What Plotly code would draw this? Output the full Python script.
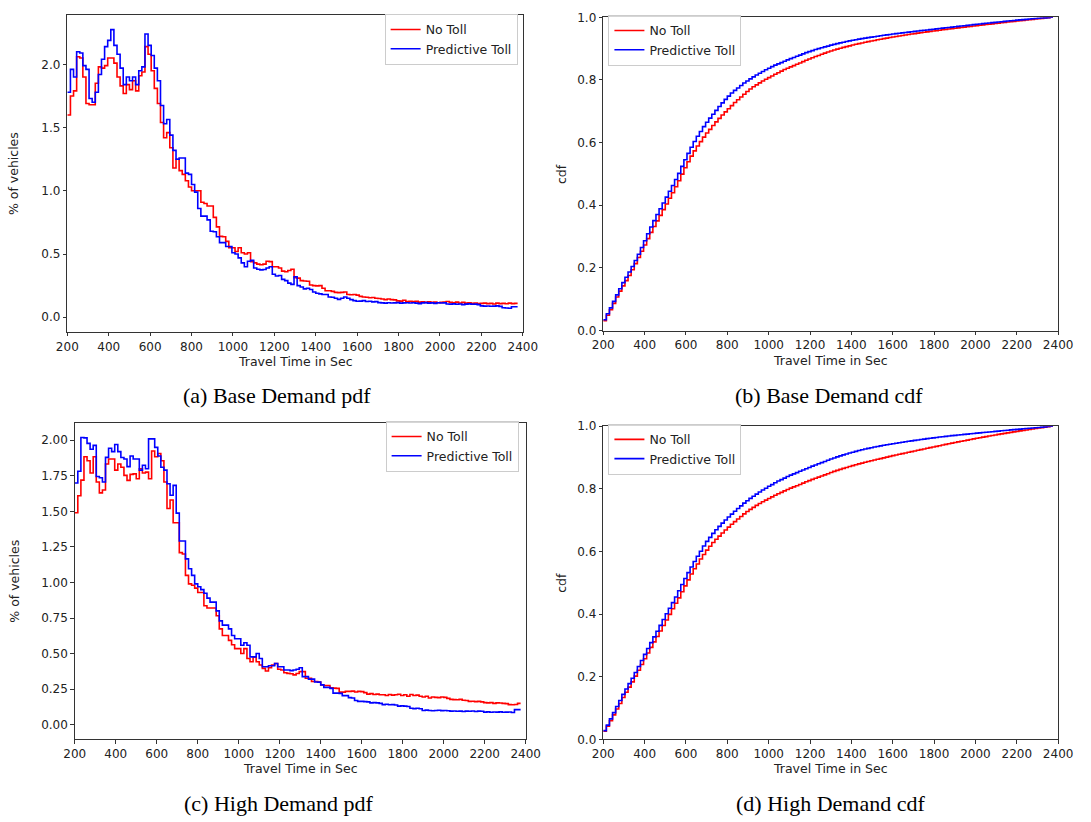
import numpy as np
import plotly.graph_objects as go

# Travel-time histograms: 15 s bins starting at 200 s, values in % of vehicles per bin
BIN_START = 200
BIN_WIDTH = 15

base_no_toll = [
    1.60, 1.75, 1.79, 2.06, 2.05, 1.90, 1.69, 1.68, 1.68, 1.85,
    1.98, 1.97, 1.99, 2.05, 2.05, 2.01, 1.90, 1.83, 1.77, 1.84,
    1.80, 1.87, 1.79, 1.91, 1.94, 2.14, 2.08, 1.95, 1.81, 1.69,
    1.54, 1.42, 1.46, 1.34, 1.18, 1.25, 1.16, 1.13, 1.08, 1.03,
    1.00, 1.00, 1.00, 0.91, 0.90, 0.88, 0.88, 0.79, 0.715, 0.64,
    0.637, 0.60, 0.55, 0.55, 0.52, 0.55, 0.51, 0.50, 0.51, 0.44,
    0.43, 0.42, 0.415, 0.42, 0.443, 0.44, 0.40, 0.40, 0.39, 0.365,
    0.36, 0.37, 0.38, 0.313, 0.31, 0.29, 0.287, 0.285, 0.255, 0.25,
    0.248, 0.25, 0.23, 0.21, 0.21, 0.205, 0.197, 0.195, 0.197, 0.20,
    0.18, 0.178, 0.18, 0.175, 0.165, 0.16, 0.158, 0.155, 0.157, 0.15,
    0.148, 0.145, 0.14, 0.145, 0.14, 0.138, 0.13, 0.128, 0.135, 0.125,
    0.127, 0.124, 0.126, 0.12, 0.122, 0.118, 0.122, 0.118, 0.12, 0.115,
    0.118, 0.12, 0.125, 0.118, 0.115, 0.12, 0.113, 0.118, 0.112, 0.115,
    0.11, 0.113, 0.108, 0.11, 0.112, 0.108, 0.11, 0.105, 0.112, 0.108,
    0.11, 0.107, 0.112, 0.108, 0.11,
]

base_predictive = [
    1.78, 1.96, 1.90, 2.10, 2.09, 1.99, 1.96, 1.73, 1.70, 1.78,
    1.92, 2.04, 2.14, 2.19, 2.275, 2.15, 2.08, 1.97, 1.84, 1.90,
    1.87, 1.90, 1.84, 1.95, 1.98, 2.24, 2.15, 2.07, 1.97, 1.87,
    1.675, 1.53, 1.564, 1.44, 1.32, 1.25, 1.26, 1.26, 1.14, 1.13,
    1.05, 0.99, 0.86, 0.80, 0.80, 0.77, 0.68, 0.676, 0.637, 0.59,
    0.59, 0.56, 0.56, 0.51, 0.50, 0.47, 0.43, 0.40, 0.443, 0.45,
    0.39, 0.38, 0.375, 0.378, 0.39, 0.40, 0.34, 0.326, 0.33, 0.30,
    0.29, 0.27, 0.26, 0.32, 0.25, 0.24, 0.225, 0.23, 0.22, 0.20,
    0.19, 0.185, 0.18, 0.18, 0.16, 0.158, 0.15, 0.142, 0.15, 0.16,
    0.15, 0.14, 0.132, 0.127, 0.128, 0.132, 0.125, 0.127, 0.122, 0.124,
    0.116, 0.114, 0.112, 0.115, 0.113, 0.114, 0.116, 0.112, 0.114, 0.115,
    0.113, 0.115, 0.112, 0.108, 0.114, 0.116, 0.112, 0.114, 0.11, 0.115,
    0.113, 0.114, 0.105, 0.104, 0.106, 0.103, 0.105, 0.10, 0.104, 0.106,
    0.103, 0.104, 0.10, 0.09, 0.088, 0.089, 0.087, 0.088, 0.09, 0.086,
    0.075, 0.073, 0.072, 0.083, 0.083,
]

high_no_toll = [
    1.49, 1.61, 1.72, 1.884, 1.856, 1.77, 1.884, 1.707, 1.63, 1.65,
    1.833, 1.868, 1.868, 1.79, 1.833, 1.81, 1.753, 1.718, 1.76, 1.764,
    1.73, 1.80, 1.77, 1.776, 1.73, 1.925, 1.884, 1.907, 1.856, 1.707,
    1.52, 1.58, 1.42, 1.42, 1.21, 1.20, 1.05, 0.99, 0.98, 0.96,
    0.93, 0.93, 0.836, 0.82, 0.82, 0.82, 0.766, 0.674, 0.627, 0.627,
    0.593, 0.5625, 0.535, 0.535, 0.50, 0.535, 0.465, 0.442, 0.477, 0.442,
    0.42, 0.396, 0.377, 0.40, 0.419, 0.43, 0.39, 0.384, 0.365, 0.361,
    0.358, 0.35, 0.36, 0.373, 0.373, 0.326, 0.326, 0.303, 0.303, 0.30,
    0.28, 0.275, 0.275, 0.26, 0.257, 0.255, 0.229, 0.229, 0.234, 0.234,
    0.236, 0.23, 0.234, 0.232, 0.225, 0.215, 0.218, 0.212, 0.215, 0.21,
    0.21, 0.205, 0.212, 0.208, 0.21, 0.214, 0.205, 0.21, 0.20, 0.212,
    0.205, 0.208, 0.20, 0.195, 0.20, 0.188, 0.195, 0.192, 0.19, 0.195,
    0.192, 0.185, 0.178, 0.176, 0.175, 0.178, 0.172, 0.17, 0.164, 0.165,
    0.162, 0.164, 0.16, 0.155, 0.153, 0.155, 0.15, 0.153, 0.152, 0.15,
    0.148, 0.141, 0.14, 0.142, 0.15,
]

high_predictive = [
    1.70, 1.782, 2.02, 2.017, 1.978, 1.937, 1.964, 1.745, 1.737, 1.707,
    1.88, 1.944, 1.92, 1.97, 1.92, 1.879, 1.868, 1.815, 1.89, 1.868,
    1.868, 1.79, 1.825, 1.80, 2.01, 2.01, 1.95, 1.89, 1.81, 1.79,
    1.694, 1.614, 1.683, 1.488, 1.292, 1.292, 1.166, 1.097, 1.05, 0.99,
    0.97, 0.95, 0.924, 0.89, 0.862, 0.862, 0.80, 0.73, 0.70, 0.70,
    0.674, 0.627, 0.604, 0.604, 0.558, 0.576, 0.558, 0.477, 0.477, 0.50,
    0.465, 0.407, 0.407, 0.414, 0.414, 0.43, 0.407, 0.407, 0.384, 0.384,
    0.38, 0.384, 0.39, 0.40, 0.338, 0.338, 0.32, 0.32, 0.30, 0.299,
    0.28, 0.262, 0.262, 0.255, 0.222, 0.222, 0.22, 0.204, 0.204, 0.19,
    0.1875, 0.17, 0.164, 0.164, 0.162, 0.16, 0.153, 0.155, 0.153, 0.15,
    0.141, 0.143, 0.14, 0.141, 0.138, 0.13, 0.132, 0.13, 0.128, 0.115,
    0.113, 0.115, 0.112, 0.10, 0.102, 0.10, 0.098, 0.10, 0.101, 0.099,
    0.10, 0.098, 0.095, 0.096, 0.094, 0.095, 0.093, 0.095, 0.094, 0.096,
    0.093, 0.095, 0.094, 0.088, 0.09, 0.087, 0.089, 0.088, 0.09, 0.087,
    0.088, 0.089, 0.086, 0.106, 0.106,
]

# Share of vehicles with travel times below 200 s (left of the plotted range)
below_200 = {
    "base_no_toll": 0.016,
    "base_predictive": 0.017,
    "high_no_toll": 0.011,
    "high_predictive": 0.011,
}

series_names = ["No Toll", "Predictive Toll"]
x_ticks = list(range(200, 2401, 200))
pdf_ticks_base = [0.0, 0.5, 1.0, 1.5, 2.0]
pdf_ticks_high = [0.0, 0.25, 0.5, 0.75, 1.0, 1.25, 1.5, 1.75, 2.0]
cdf_ticks = [0.0, 0.2, 0.4, 0.6, 0.8, 1.0]
captions = ["(a) Base Demand pdf", "(b) Base Demand cdf",
            "(c) High Demand pdf", "(d) High Demand cdf"]

for arr in (base_no_toll, base_predictive, high_no_toll, high_predictive):
    assert len(arr) == 145, len(arr)

n_bins = len(base_no_toll)
edges = BIN_START + BIN_WIDTH * np.arange(n_bins + 1)


def step_y(values):
    v = list(values)
    return v + [v[-1]]


def cdf_of(values, offset):
    c = offset + np.cumsum(values) / 100.0
    return c / c[-1]


W, H = 1091, 822
FONT = "DejaVu Sans"
RED, BLUE = "#ff0000", "#0000ff"

# panel frames in pixels: left, right, top, bottom
frames = {
    1: (57.7, 524.3, 8.3, 330.3),
    2: (606.7, 1072.7, 10.5, 329.2),
    3: (65.3, 527.3, 423.3, 744.7),
    4: (606.7, 1072.7, 426.5, 745.0),
}

panels = [
    # (axis index, red series, blue series)
    (1, base_no_toll, base_predictive),
    (2, cdf_of(base_no_toll, below_200["base_no_toll"]),
        cdf_of(base_predictive, below_200["base_predictive"])),
    (3, high_no_toll, high_predictive),
    (4, cdf_of(high_no_toll, below_200["high_no_toll"]),
        cdf_of(high_predictive, below_200["high_predictive"])),
]

fig = go.Figure()
for idx, red_vals, blue_vals in panels:
    suffix = "" if idx == 1 else str(idx)
    for name, vals, color in ((series_names[0], red_vals, RED),
                              (series_names[1], blue_vals, BLUE)):
        fig.add_trace(go.Scatter(
            x=edges, y=step_y(vals), mode="lines", name=name,
            line=dict(color=color, width=1.6, shape="hv"),
            xaxis="x" + suffix, yaxis="y" + suffix,
            legend="legend" + suffix, hoverinfo="skip",
        ))

axis_common = dict(
    showline=True, mirror=True, linecolor="#333333", linewidth=1,
    ticks="outside", ticklen=3.5, tickwidth=1, tickcolor="#333333",
    showgrid=False, zeroline=False,
    tickfont=dict(family=FONT, size=12, color="#222222"),
)

layout = dict(
    width=W, height=H, margin=dict(l=0, r=0, t=0, b=0),
    paper_bgcolor="white", plot_bgcolor="white", showlegend=True,
    annotations=[],
)

y_ranges = {1: [-0.1138, 2.389], 2: [0, 1.0], 3: [-0.101, 2.121], 4: [0, 1.0]}
y_ticks = {1: (pdf_ticks_base, ".1f"), 2: (cdf_ticks, ".1f"),
           3: (pdf_ticks_high, ".2f"), 4: (cdf_ticks, ".1f")}
y_titles = {1: "% of vehicles", 2: "cdf", 3: "% of vehicles", 4: "cdf"}

for idx, (l, r, t, b) in frames.items():
    suffix = "" if idx == 1 else str(idx)
    xd = [l / W, r / W]
    yd = [1 - b / H, 1 - t / H]
    layout["xaxis" + suffix] = dict(
        axis_common, domain=xd, range=[200, 2400], tickvals=x_ticks,
        anchor="y" + suffix)
    tv, fmt = y_ticks[idx]
    layout["yaxis" + suffix] = dict(
        axis_common, domain=yd, range=y_ranges[idx], tickvals=tv,
        tickformat=fmt, anchor="x" + suffix)
    # axis titles
    layout["annotations"].append(dict(
        text="Travel Time in Sec", xref="paper", yref="paper",
        x=(l + r) / 2 / W, y=1 - (b + 30) / H, xanchor="center", yanchor="middle",
        showarrow=False, font=dict(family=FONT, size=12.5, color="#222222")))
    long_title = idx in (1, 3)
    layout["annotations"].append(dict(
        text=y_titles[idx], xref="paper", yref="paper", textangle=-90,
        x=(14 if long_title else 564.5) / W, y=1 - (t + b) / 2 / H,
        xshift=-11 if long_title else 0,
        xanchor="center", yanchor="middle", showarrow=False,
        font=dict(family=FONT, size=12.5, color="#222222")))

# sub-figure captions
caption_pos = [(272.5, 395), (838, 395), (274, 810), (839, 810)]
for text, (cx, cy) in zip(captions, caption_pos):
    layout["annotations"].append(dict(
        text=text, xref="paper", yref="paper", x=cx / W, y=1 - cy / H,
        xanchor="center", yanchor="middle", showarrow=False,
        font=dict(family="Liberation Serif", size=22, color="black")))

legend_common = dict(
    bgcolor="rgba(255,255,255,0.8)", bordercolor="#cccccc", borderwidth=1,
    font=dict(family=FONT, size=12.5, color="#222222"), yanchor="top",
    tracegroupgap=0, itemwidth=30,
)
layout["legend"] = dict(legend_common, x=519 / W, xanchor="right", y=1 - 7 / H)
layout["legend2"] = dict(legend_common, x=612 / W, xanchor="left", y=1 - 8 / H)
layout["legend3"] = dict(legend_common, x=520 / W, xanchor="right", y=1 - 421 / H)
layout["legend4"] = dict(legend_common, x=612 / W, xanchor="left", y=1 - 424 / H)

fig.update_layout(**layout)
fig.write_html("out.html")
